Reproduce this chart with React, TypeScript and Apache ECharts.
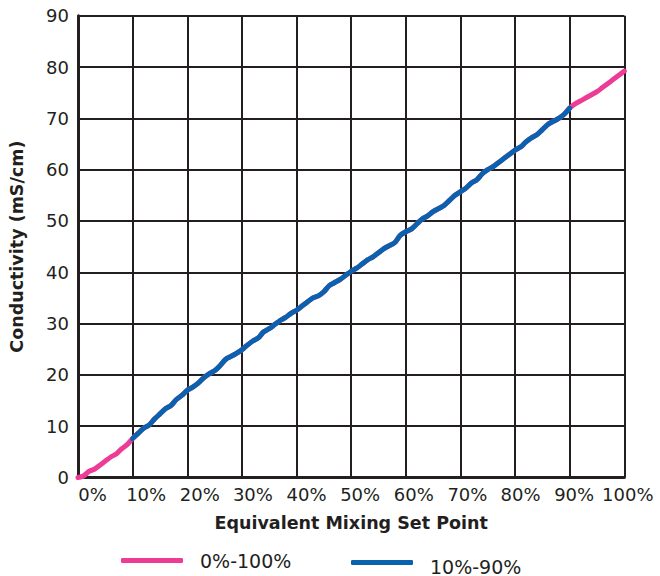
import React, { useEffect, useRef } from "react";
import * as echarts from "echarts";

// Set point (%) and measured conductivity (mS/cm), one reading per percent
const setPoints: number[] = Array.from({ length: 101 }, (_, i) => i);
const conductivity: number[] = [
  0, 0.3, 1.2, 1.6, 2.4, 3.2, 4.0, 4.6, 5.6, 6.4, 7.6,
  8.6, 9.6, 10.2, 11.4, 12.4, 13.4, 14.0, 15.2, 16.0, 17.0,
  17.6, 18.4, 19.4, 20.2, 20.8, 21.8, 23.0, 23.6, 24.2, 24.9,
  25.8, 26.6, 27.2, 28.4, 29.0, 29.8, 30.6, 31.2, 32.0, 32.6,
  33.4, 34.2, 35.0, 35.4, 36.2, 37.4, 38.0, 38.6, 39.4, 40.2,
  40.8, 41.6, 42.4, 43.0, 43.8, 44.6, 45.2, 45.8, 47.2, 47.9,
  48.4, 49.4, 50.4, 51.0, 51.8, 52.4, 53.0, 54.0, 55.0, 55.7,
  56.4, 57.4, 58.0, 59.2, 60.0, 60.6, 61.4, 62.2, 63.0, 63.8,
  64.4, 65.4, 66.2, 66.8, 67.8, 68.8, 69.4, 70.0, 70.8, 72.0,
  72.8, 73.4, 74.0, 74.6, 75.2, 76.0, 76.8, 77.6, 78.4, 79.2,
];
const seriesNames: string[] = ["0%-100%", "10%-90%"];
const xTicks: number[] = [0, 10, 20, 30, 40, 50, 60, 70, 80, 90, 100];

const FONT = "DejaVu Sans";
const INK = "#231f20";
const PINK = "#ec3c95";
const BLUE = "#0a62ae";

export default function App() {
  const ref = useRef<HTMLDivElement>(null);

  useEffect(() => {
    if (!ref.current) return;
    const chart = echarts.init(ref.current, undefined, { renderer: "svg" });

    const full = setPoints.map((x, i) => [x, conductivity[i]]);
    const mid = full.filter(([x]) => x >= 10 && x <= 90);

    // tick labels drift slightly right of their ticks, more so on the left
    const rich: Record<string, any> = {};
    xTicks.forEach((t, i) => {
      const shift = 14.5 - 1.1 * i;
      rich["t" + i] = {
        fontFamily: FONT,
        fontSize: 18,
        color: INK,
        padding: [0, 0, 0, Math.round(shift * 2)],
      };
    });

    const legendRich = {
      a: { fontFamily: FONT, fontSize: 19, color: INK, padding: [0, 0, 0, 12] },
      b: { fontFamily: FONT, fontSize: 19, color: INK, padding: [8, 0, 0, 12] },
    };

    chart.setOption({
      animation: false,
      backgroundColor: "#ffffff",
      textStyle: { fontFamily: FONT, color: INK },
      grid: { left: 75.5, top: 15.7, right: 35.7, bottom: 98.5 },
      legend: [
        {
          data: [seriesNames[0]],
          left: 121,
          top: 551,
          padding: 0,
          itemWidth: 62,
          itemHeight: 5,
          icon: "roundRect",
          formatter: (n: string) => `{a|${n}}`,
          textStyle: { fontFamily: FONT, fontSize: 19, color: INK, rich: legendRich },
        },
        {
          data: [seriesNames[1]],
          left: 351,
          top: 557,
          padding: 0,
          itemWidth: 62,
          itemHeight: 5,
          icon: "roundRect",
          formatter: (n: string) => `{b|${n}}`,
          textStyle: { fontFamily: FONT, fontSize: 19, color: INK, rich: legendRich },
        },
      ],
      xAxis: {
        type: "value",
        min: 0,
        max: 100,
        interval: 10,
        name: "Equivalent Mixing Set Point",
        nameLocation: "middle",
        nameGap: 36,
        nameTextStyle: { fontFamily: FONT, fontSize: 17.5, fontWeight: "bold", color: INK },
        axisLine: { show: true, lineStyle: { color: INK, width: 3 } },
        axisTick: { show: false },
        axisLabel: {
          margin: 8,
          formatter: (v: number) => {
            const i = xTicks.indexOf(v);
            return `{t${i}|${v}%}`;
          },
          rich,
        },
        splitLine: { show: true, lineStyle: { color: INK, width: 2 } },
      },
      yAxis: {
        type: "value",
        min: 0,
        max: 90,
        interval: 10,
        name: "Conductivity (mS/cm)",
        nameLocation: "middle",
        nameGap: 52,
        nameTextStyle: { fontFamily: FONT, fontSize: 17.5, fontWeight: "bold", color: INK },
        axisLine: { show: true, lineStyle: { color: INK, width: 3 } },
        axisTick: { show: false },
        axisLabel: { fontFamily: FONT, fontSize: 18, color: INK, margin: 9 },
        splitLine: { show: true, lineStyle: { color: INK, width: 2 } },
      },
      series: [
        {
          name: seriesNames[0],
          type: "line",
          data: full,
          showSymbol: false,
          symbol: "none",
          smooth: 0.3,
          lineStyle: { color: PINK, width: 5, cap: "round", join: "round" },
          itemStyle: { color: PINK },
          z: 3,
        },
        {
          name: seriesNames[1],
          type: "line",
          data: mid,
          showSymbol: false,
          symbol: "none",
          smooth: 0.3,
          lineStyle: { color: BLUE, width: 5, cap: "round", join: "round" },
          itemStyle: { color: BLUE },
          z: 4,
        },
      ],
    });

    return () => chart.dispose();
  }, []);

  return <div ref={ref} style={{ width: 660, height: 576, position: "absolute", left: 0, top: 0 }} />;
}
